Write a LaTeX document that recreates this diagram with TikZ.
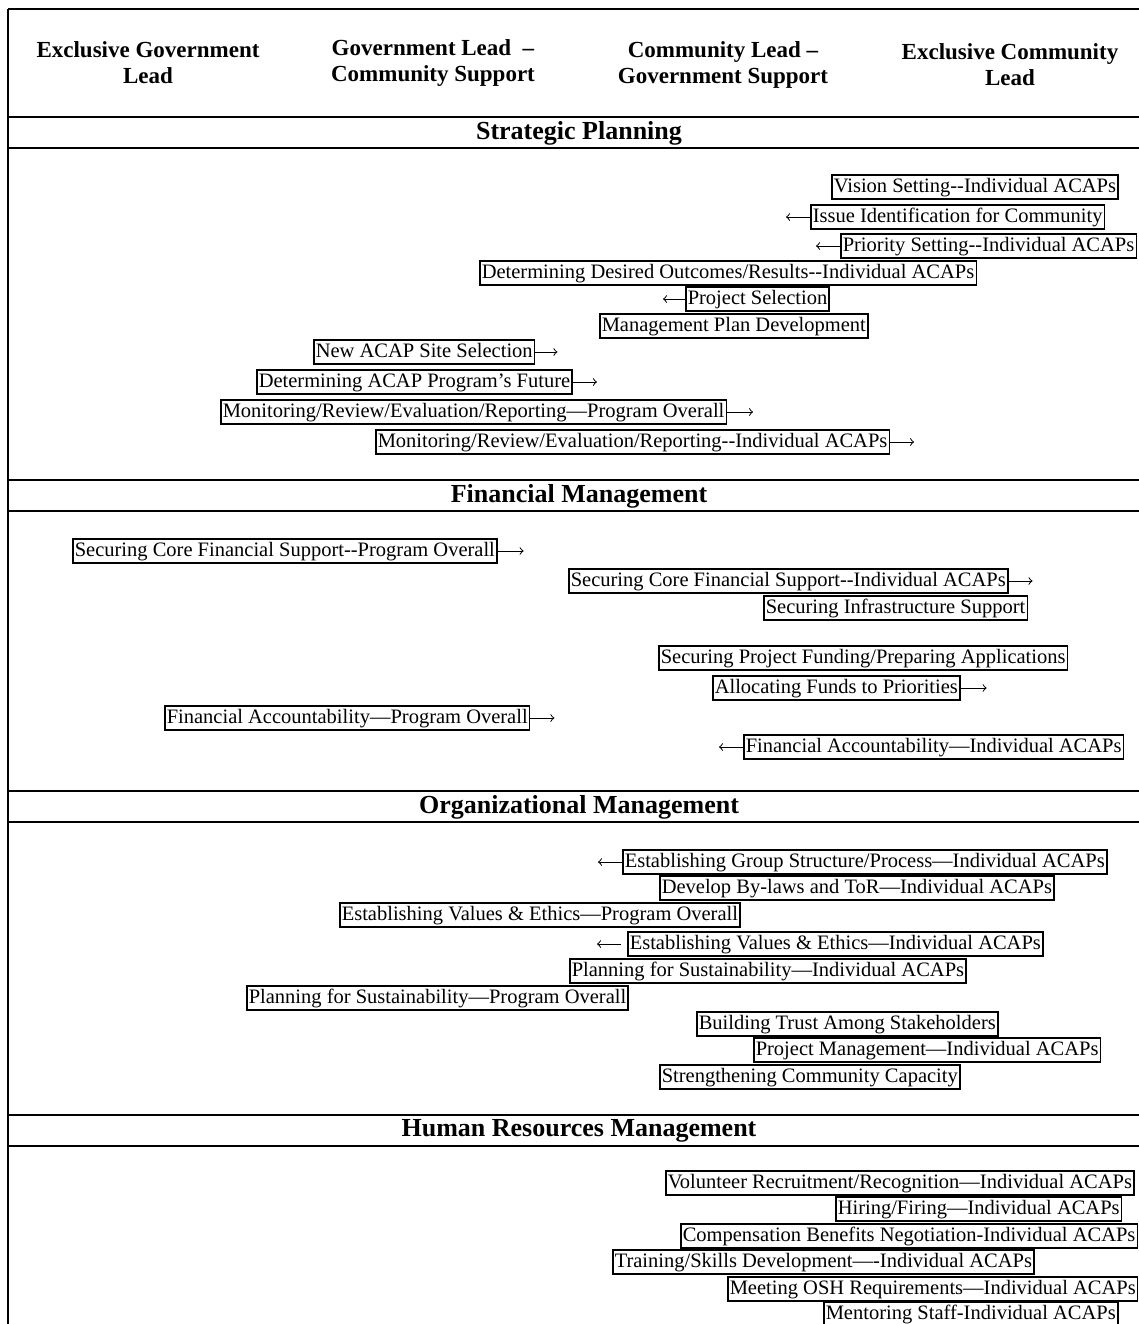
\documentclass[tikz,border=0pt]{standalone}
\usepackage{fontspec}
\setmainfont{Liberation Serif}
\usepackage{tikz}
\usetikzlibrary{positioning}

\tikzset{
    rule/.style={line width=0.9pt},
    item/.style={draw, line width=0.75pt, anchor=west, inner xsep=1pt, inner ysep=1pt,
        text height=7.7pt, text depth=2.4pt, font=\fontsize{10.25}{12}\selectfont},
    head/.style={align=center, font=\bfseries\fontsize{11.5}{13}\selectfont},
    band/.style={font=\bfseries\fontsize{13}{15}\selectfont},
    arr/.style={->, line width=0.5pt, >=to},
}

\begin{document}
\begin{tikzpicture}[x=0.5pt, y=-0.5pt]
    \useasboundingbox (0,0) rectangle (1139,1324);

    \draw[rule] (8,9) -- (1139,9);
    \draw[rule] (8,9) -- (8,1324);
    \foreach \t/\b in {117/148, 480/511, 791/822, 1115/1146} {
        \draw[rule] (8,\t) -- (1139,\t);
        \draw[rule] (8,\b) -- (1139,\b);
    }

    \node[head] at (148, 63) (h1) {Exclusive Government\\Lead};
    \node[head] at (433, 63) (h2) {Government Lead \ --\\Community Support};
    \node[head] at (723, 65) (h3) {Community Lead --\\Government Support};
    \node[head] at (1010, 65) (h4) {Exclusive Community\\Lead};

    \node[band] at (579, 133) (sp) {Strategic Planning};
    \node[band] at (579, 496) (fm) {Financial Management};
    \node[band] at (579, 807) (om) {Organizational Management};
    \node[band] at (579, 1131) (hr) {Human Resources Management};

    \node[item] at (831, 187) (sp1) {Vision Setting-{}-Individual ACAPs};
    \node[item] at (810, 217) (sp2) {Issue Identification for Community};
    \node[item] at (840, 246) (sp3) {Priority Setting-{}-Individual ACAPs};
    \node[item] at (479, 273) (sp4) {Determining Desired Outcomes/Results-{}-Individual ACAPs};
    \node[item] at (685, 299) (sp5) {Project Selection};
    \node[item] at (599, 326) (sp6) {Management Plan Development};
    \node[item] at (313, 352) (sp7) {New ACAP Site Selection};
    \node[item] at (256, 382) (sp8) {Determining ACAP Program’s Future};
    \node[item] at (220, 412) (sp9) {Monitoring/Review/Evaluation/Reporting---Program Overall};
    \node[item] at (375, 442) (sp10) {Monitoring/Review/Evaluation/Reporting-{}-Individual ACAPs};

    \coordinate[left=12pt of sp2] (sp2a);
    \coordinate[left=12pt of sp3] (sp3a);
    \coordinate[left=11pt of sp5] (sp5a);
    \coordinate[right=11pt of sp7] (sp7a);
    \coordinate[right=12pt of sp8] (sp8a);
    \coordinate[right=13pt of sp9] (sp9a);
    \coordinate[right=12pt of sp10] (sp10a);
    \draw[arr] (sp2) -- (sp2a);
    \draw[arr] (sp3) -- (sp3a);
    \draw[arr] (sp5) -- (sp5a);
    \draw[arr] (sp7) -- (sp7a);
    \draw[arr] (sp8) -- (sp8a);
    \draw[arr] (sp9) -- (sp9a);
    \draw[arr] (sp10) -- (sp10a);

    \node[item] at (72, 551) (fm1) {Securing Core Financial Support-{}-Program Overall};
    \node[item] at (568, 581) (fm2) {Securing Core Financial Support-{}-Individual ACAPs};
    \node[item] at (763, 608) (fm3) {Securing Infrastructure Support};
    \node[item] at (658, 658) (fm4) {Securing Project Funding/Preparing Applications};
    \node[item] at (712, 688) (fm5) {Allocating Funds to Priorities};
    \node[item] at (164, 718) (fm6) {Financial Accountability---Program Overall};
    \node[item] at (743, 747) (fm7) {Financial Accountability---Individual ACAPs};

    \coordinate[right=13pt of fm1] (fm1a);
    \coordinate[right=12pt of fm2] (fm2a);
    \coordinate[right=13pt of fm5] (fm5a);
    \coordinate[right=12pt of fm6] (fm6a);
    \coordinate[left=12pt of fm7] (fm7a);
    \draw[arr] (fm1) -- (fm1a);
    \draw[arr] (fm2) -- (fm2a);
    \draw[arr] (fm5) -- (fm5a);
    \draw[arr] (fm6) -- (fm6a);
    \draw[arr] (fm7) -- (fm7a);

    \node[item] at (622, 862) (om1) {Establishing Group Structure/Process---Individual ACAPs};
    \node[item] at (659, 888) (om2) {Develop By-laws and ToR---Individual ACAPs};
    \node[item] at (339, 915) (om3) {Establishing Values \& Ethics---Program Overall};
    \node[item] at (627, 944) (om4) {Establishing Values \& Ethics---Individual ACAPs};
    \node[item] at (569, 971) (om5) {Planning for Sustainability---Individual ACAPs};
    \node[item] at (246, 998) (om6) {Planning for Sustainability---Program Overall};
    \node[item] at (696, 1024) (om7) {Building Trust Among Stakeholders};
    \node[item] at (753, 1050) (om8) {Project Management---Individual ACAPs};
    \node[item] at (659, 1077) (om9) {Strengthening Community Capacity};

    \coordinate[left=12pt of om1] (om1a);
    \coordinate[left=15pt of om4] (om4a);
    \draw[arr] (om1) -- (om1a);
    \draw[arr, shorten <=3pt] (om4) -- (om4a);

    \node[item] at (665, 1183) (hr1) {Volunteer Recruitment/Recognition---Individual ACAPs};
    \node[item] at (835, 1209) (hr2) {Hiring/Firing---Individual ACAPs};
    \node[item] at (680, 1236) (hr3) {Compensation Benefits Negotiation-Individual ACAPs};
    \node[item] at (612, 1262) (hr4) {Training/Skills Development---{}-Individual ACAPs};
    \node[item] at (727, 1289) (hr5) {Meeting OSH Requirements---Individual ACAPs};
    \node[item] at (823, 1314) (hr6) {Mentoring Staff-Individual ACAPs};
\end{tikzpicture}
\end{document}
